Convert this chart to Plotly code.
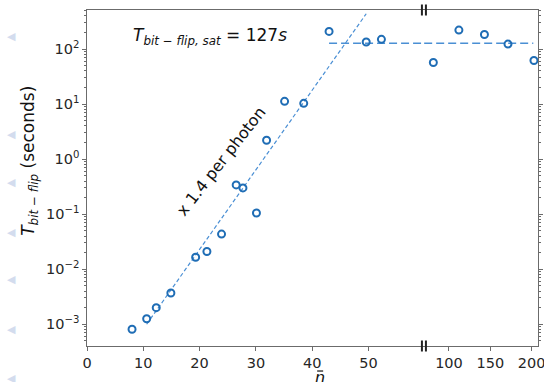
import plotly.graph_objects as go

# ---- data ----
n_low = [8.0, 10.6, 12.3, 14.9, 19.3, 21.3, 23.9, 26.5, 27.7, 30.1, 31.9, 35.1, 38.5, 43.0, 49.6, 52.3]
t_low = [8.1e-4, 1.26e-3, 2.0e-3, 3.7e-3, 0.0165, 0.021, 0.0435, 0.34, 0.30, 0.105, 2.2, 11.2, 10.3, 209, 134, 150]
n_high = [81.1, 112, 142.9, 171.4, 202.8]
t_high = [57, 221, 184, 123, 62]
fit_n = [10.6, 49.6]
fit_t = [1.0e-3, 437]
sat_value = 127
sat_n_low = [43.0, 60]
sat_n_high = [70, 202]
x_ticks_low = [0, 10, 20, 30, 40, 50]
x_ticks_high = [100, 150, 200]
y_tick_vals = [1e-3, 1e-2, 1e-1, 1e0, 1e1, 1e2]
y_tick_text = ["10<sup>−3</sup>", "10<sup>−2</sup>", "10<sup>−1</sup>",
               "10<sup>0</sup>", "10<sup>1</sup>", "10<sup>2</sup>"]
y_minor_vals = [k * 10.0 ** e for e in range(-4, 3) for k in range(2, 10)]

# ---- geometry helpers (pixels -> paper) ----
W, H = 544, 382
L, R, T, B = 87, 537.7, 10.3, 346
def px(x):
    return (x - L) / (R - L)
def py(y):
    return (B - y) / (B - T)
split = px(423.7)

MC = "#1f6db5"
LC = "#4a8fd4"
AX = "#6b6b6b"
TXT = "#262626"
FONT = "DejaVu Sans"

fig = go.Figure()
fig.add_trace(go.Scatter(x=fit_n, y=fit_t, mode="lines", xaxis="x", yaxis="y",
                         line=dict(color=LC, width=1.2, dash="4px,2.5px"), showlegend=False))
fig.add_trace(go.Scatter(x=sat_n_low, y=[sat_value, sat_value], mode="lines", xaxis="x", yaxis="y",
                         line=dict(color=LC, width=1.5, dash="8px,4px"), showlegend=False))
fig.add_trace(go.Scatter(x=sat_n_high, y=[sat_value, sat_value], mode="lines", xaxis="x2", yaxis="y2",
                         line=dict(color=LC, width=1.5, dash="8px,4px"), showlegend=False))
fig.add_trace(go.Scatter(x=n_low, y=t_low, mode="markers", xaxis="x", yaxis="y",
                         marker=dict(symbol="circle-open", size=7, color=MC, line=dict(width=2, color=MC)),
                         showlegend=False, cliponaxis=False))
fig.add_trace(go.Scatter(x=n_high, y=t_high, mode="markers", xaxis="x2", yaxis="y2",
                         marker=dict(symbol="circle-open", size=7, color=MC, line=dict(width=2, color=MC)),
                         showlegend=False, cliponaxis=False))

yr = [-3.395, 2.709]
common_x = dict(showline=True, linecolor=AX, linewidth=1.2, mirror=True, ticks="outside",
                ticklen=3.5, tickcolor=AX, showgrid=False, zeroline=False, automargin=False,
                ticklabeloverflow="allow",
                tickfont=dict(family=FONT, size=14.5, color=TXT))
minor_y = dict(tickvals=y_minor_vals, ticks="outside", ticklen=2, tickcolor=AX, showgrid=False)
fig.update_layout(
    width=W, height=H,
    margin=dict(l=L, r=W - R, t=T, b=H - B, autoexpand=False),
    plot_bgcolor="white", paper_bgcolor="white",
    xaxis=dict(domain=[0, split], range=[0, 59.85], tickvals=x_ticks_low, anchor="y", **common_x),
    xaxis2=dict(domain=[split, 1], range=[69.7, 207.7], tickvals=x_ticks_high, anchor="y2", **common_x),
    yaxis=dict(type="log", range=yr, tickvals=y_tick_vals, ticktext=y_tick_text, anchor="x",
               showline=True, linecolor=AX, linewidth=1.2, ticks="outside", ticklen=3.5, tickcolor=AX,
               showgrid=False, zeroline=False, automargin=False, minor=minor_y,
               tickfont=dict(family=FONT, size=14.5, color=TXT)),
    yaxis2=dict(type="log", range=yr, tickvals=y_tick_vals, anchor="x2", side="right", matches="y",
                showline=True, linecolor=AX, linewidth=1.2, ticks="outside", ticklen=3.5, tickcolor=AX,
                showticklabels=False, showgrid=False, zeroline=False, automargin=False, minor=minor_y),
)

# break markers
for yy in (0, 1):
    for dx in (-2, 2):
        fig.add_shape(type="line", xref="paper", yref="paper", xsizemode="pixel", ysizemode="pixel",
                      xanchor=split, yanchor=yy, x0=dx, x1=dx, y0=-5.5, y1=5.5,
                      line=dict(color="#222", width=2))
# macron over the x-axis title n
fig.add_shape(type="line", xref="paper", yref="paper", x0=px(317), x1=px(323), y0=py(371), y1=py(371),
              line=dict(color="#111", width=1.2))

def anno(x, y, text, size, color="#111", angle=0):
    return dict(x=px(x), y=py(y), xref="paper", yref="paper", showarrow=False,
                xanchor="center", yanchor="middle", textangle=angle, text=text,
                font=dict(family=FONT, size=size, color=color))

annos = [
    anno(210, 37, "<i>T</i><sub><i>bit − flip, sat</i></sub> = 127<i>s</i>", 17),
    anno(221, 162, "x 1.4 per photon", 16, angle=-52),
    anno(30, 161, "<i>T</i><sub><i>bit − flip</i></sub> (seconds)", 17, angle=-90),
    anno(320, 377, "<i>n</i>", 16),
]
for ty in (37, 135, 183, 233, 280, 330, 378):
    annos.append(anno(12, ty, "\u25c0", 11, color="#d3dcee"))
fig.update_layout(annotations=annos)

fig.write_html("out.html", config={"displayModeBar": False},
               post_script="document.body.style.margin='0';document.body.style.padding='0';")
